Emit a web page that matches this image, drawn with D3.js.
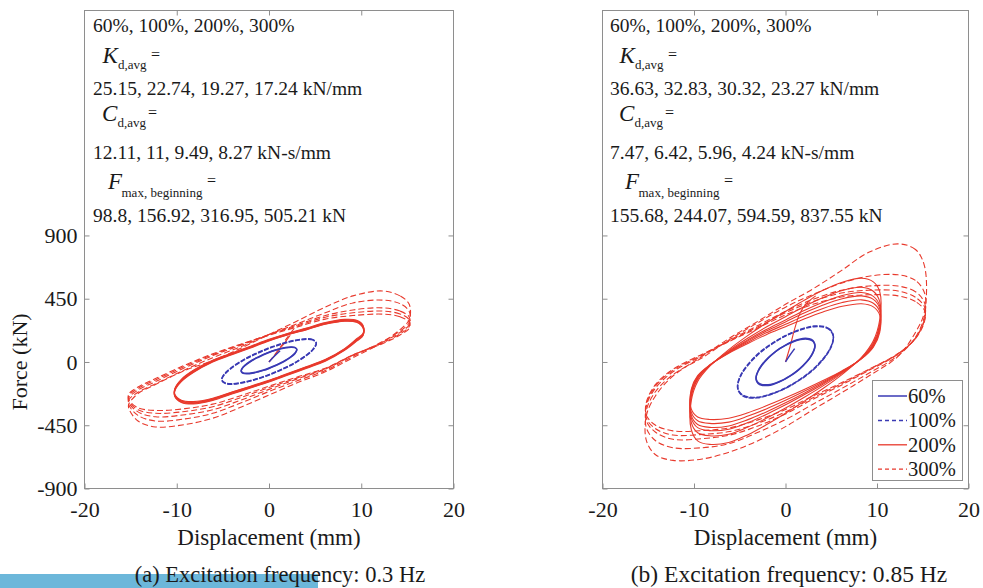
<!DOCTYPE html>
<html>
<head>
<meta charset="utf-8">
<script src="https://cdn.jsdelivr.net/npm/d3@7"></script>
<style>
  body { margin: 0; background: #fff; }
  svg { display: block; }
  text { font-family: "Liberation Serif", "Times New Roman", serif; fill: #1a1a1a; }
</style>
</head>
<body>
<svg id="chart" width="983" height="588"></svg>
<script>
// ---------- axis ticks ----------
const xTicks = [-20, -10, 0, 10, 20];
const yTicks = [-900, -450, 0, 450, 900];
const xLimits = [-20, 20];
const yLimits = [-900, 2500];

// ---------- legend ----------
const amplitudes = ["60%", "100%", "200%", "300%"];

// ---------- annotation text ----------
const statsA = {
  kd: "25.15, 22.74, 19.27, 17.24 kN/mm",
  cd: "12.11, 11, 9.49, 8.27 kN-s/mm",
  fmax: "98.8, 156.92, 316.95, 505.21 kN"
};
const statsB = {
  kd: "36.63, 32.83, 30.32, 23.27 kN/mm",
  cd: "7.47, 6.42, 5.96, 4.24 kN-s/mm",
  fmax: "155.68, 244.07, 594.59, 837.55 kN"
};
const captions = ["(a) Excitation frequency: 0.3 Hz", "(b) Excitation frequency: 0.85 Hz"];

// ---------- hysteresis loops, 0.3 Hz ----------
// displacement stations (mm); upper branch / lower branch forces (kN) per cycle
const stA60 = [-3.0, -2.8, -2.4, -1.8, -1.2, -0.6, 0, 0.6, 1.2, 1.8, 2.4, 2.8, 3.0];
const a60Upper = [
  [-60, -38, -15, 11, 32, 51, 67, 81, 92, 101, 105, 102, 90],
  [-57, -35, -12, 14, 35, 54, 70, 84, 95, 103, 107, 104, 92]
];
const a60Lower = [
  [-66, -78, -81, -77, -68, -57, -43, -27, -8, 13, 39, 62, 84],
  [-69, -81, -84, -80, -71, -60, -46, -30, -11, 10, 36, 59, 81]
];

const stA100 = [-5.1, -4.75, -4.1, -3.05, -2.05, -1.0, 0, 1.0, 2.05, 3.05, 4.1, 4.75, 5.1];
const a100Upper = [
  [-115, -79, -41, 5, 41, 73, 100, 123, 143, 157, 165, 159, 140],
  [-118, -83, -45, 1, 37, 69, 96, 119, 140, 154, 162, 157, 137]
];
const a100Lower = [
  [-130, -149, -155, -147, -133, -113, -90, -63, -31, 5, 51, 89, 125],
  [-133, -152, -158, -150, -136, -116, -93, -66, -34, 2, 48, 86, 122]
];

const stA200 = [-10.2, -9.5, -8.2, -6.1, -4.1, -2.0, 0, 2.0, 4.1, 6.1, 8.2, 9.5, 10.2];
const a200Upper = [
  [-205, -140, -75, 0, 50, 100, 150, 192, 230, 268, 290, 282, 240],
  [-200, -135, -71, 3, 53, 103, 152, 194, 232, 270, 292, 285, 245],
  [-196, -131, -67, 6, 56, 106, 155, 197, 236, 274, 296, 289, 250],
  [-192, -127, -63, 9, 59, 109, 158, 200, 239, 277, 300, 293, 255],
  [-188, -123, -59, 12, 62, 112, 161, 203, 242, 280, 303, 297, 260]
];
const a200Lower = [
  [-232, -272, -282, -258, -215, -172, -130, -82, -32, 18, 95, 165, 205],
  [-236, -276, -287, -262, -218, -175, -133, -85, -35, 15, 92, 160, 200],
  [-240, -280, -291, -266, -222, -178, -136, -88, -38, 12, 89, 156, 196],
  [-244, -284, -295, -270, -226, -182, -139, -91, -41, 9, 86, 152, 192],
  [-248, -288, -299, -274, -230, -185, -142, -94, -44, 6, 83, 148, 188]
];

const stA300 = [-15.2, -14.2, -12.3, -9.1, -6.1, -3.0, 0, 3.0, 6.1, 9.1, 12.3, 14.2, 15.2];
const a300Upper = [
  [-300, -225, -160, -60, 10, 100, 195, 290, 390, 470, 505, 470, 410],
  [-270, -215, -155, -55, 30, 110, 195, 270, 350, 420, 440, 415, 360],
  [-255, -200, -140, -40, 45, 120, 195, 262, 330, 370, 385, 362, 320],
  [-240, -188, -128, -30, 52, 125, 193, 255, 318, 350, 362, 342, 300],
  [-228, -178, -118, -22, 58, 128, 190, 248, 305, 330, 340, 322, 282]
];
const a300Lower = [
  [-330, -420, -462, -445, -400, -320, -235, -150, -70, 30, 140, 230, 300],
  [-305, -380, -420, -405, -365, -290, -210, -135, -60, 40, 145, 220, 280],
  [-290, -355, -390, -375, -340, -270, -195, -122, -52, 48, 140, 210, 265],
  [-278, -340, -365, -352, -318, -252, -182, -115, -48, 50, 135, 200, 252],
  [-268, -325, -345, -332, -300, -238, -172, -108, -44, 50, 130, 192, 240]
];

// initial loading from rest
const a200Start = [[0, 0], [0.6, 45], [1.2, 95], [1.8, 145], [2.3, 190]];
const a300Start = [[0, 0], [1.0, 85], [2.0, 175], [3.0, 262]];
const a60Start = [[0, 0], [0.6, 42], [1.2, 80]];

// ---------- hysteresis loops, 0.85 Hz ----------
const stB60 = [-3.2, -3.0, -2.6, -1.9, -1.3, -0.6, 0, 0.6, 1.3, 1.9, 2.6, 3.0, 3.2];
const b60Upper = [
  [-105, -68, -25, 27, 62, 96, 120, 140, 158, 167, 165, 152, 128],
  [-100, -64, -22, 29, 63, 96, 118, 137, 154, 162, 160, 147, 122]
];
const b60Lower = [
  [-128, -152, -165, -167, -158, -140, -120, -96, -62, -27, 25, 68, 105],
  [-123, -147, -160, -162, -154, -137, -118, -96, -63, -28, 22, 64, 100]
];

const stB100 = [-5.2, -4.85, -4.2, -3.1, -2.1, -1.0, 0, 1.0, 2.1, 3.1, 4.2, 4.85, 5.2];
const b100Upper = [
  [-155, -93, -30, 47, 100, 148, 185, 214, 238, 251, 248, 227, 190],
  [-150, -88, -25, 52, 104, 151, 187, 216, 241, 255, 253, 232, 195]
];
const b100Lower = [
  [-190, -227, -248, -251, -238, -214, -185, -148, -100, -47, 30, 93, 155],
  [-195, -232, -253, -255, -241, -216, -187, -151, -104, -52, 25, 88, 150]
];

const stB200 = [-10.3, -9.6, -8.3, -6.2, -4.1, -2.1, 0, 2.1, 4.1, 6.2, 8.3, 9.6, 10.3];
const b200Upper = [
  [-277, -139, -32, 88, 189, 277, 359, 441, 510, 567, 596, 570, 500],
  [-249, -124, -28, 79, 170, 249, 322, 396, 458, 509, 531, 503, 429],
  [-231, -116, -26, 74, 158, 231, 299, 368, 425, 473, 494, 467, 399],
  [-220, -110, -25, 70, 150, 220, 285, 350, 405, 450, 470, 445, 380],
  [-207, -103, -24, 66, 141, 207, 268, 329, 381, 423, 442, 418, 357],
  [-194, -97, -22, 62, 132, 194, 251, 308, 356, 396, 414, 392, 334]
];
const b200Lower = [
  [-479, -561, -586, -573, -517, -447, -365, -277, -189, -88, 32, 151, 302],
  [-429, -503, -525, -514, -463, -401, -328, -249, -170, -79, 28, 136, 271],
  [-399, -467, -488, -478, -431, -373, -305, -231, -158, -74, 26, 126, 252],
  [-380, -445, -465, -455, -410, -355, -290, -220, -150, -70, 25, 120, 240],
  [-357, -418, -437, -428, -385, -334, -273, -207, -141, -66, 24, 113, 226],
  [-334, -392, -409, -400, -361, -312, -255, -194, -132, -62, 22, 106, 211]
];

const stB300 = [-15.2, -14.2, -12.3, -9.1, -6.1, -3.0, 0, 3.0, 6.1, 9.1, 12.3, 14.2, 15.2];
const b300Upper = [
  [-380, -240, -100, 40, 170, 290, 410, 520, 650, 780, 840, 800, 680],
  [-340, -210, -90, 30, 160, 280, 390, 480, 560, 610, 620, 580, 490],
  [-310, -185, -70, 45, 155, 260, 360, 445, 510, 540, 540, 500, 420],
  [-300, -170, -60, 50, 150, 250, 350, 430, 490, 510, 505, 460, 390],
  [-285, -160, -52, 55, 148, 242, 335, 410, 462, 478, 470, 430, 365]
];
const b300Lower = [
  [-560, -660, -700, -690, -640, -560, -460, -340, -220, -100, 40, 210, 360],
  [-470, -560, -610, -610, -580, -500, -410, -300, -190, -80, 45, 175, 330],
  [-420, -500, -550, -545, -520, -455, -370, -265, -165, -60, 55, 170, 310],
  [-400, -475, -520, -515, -495, -435, -355, -255, -155, -55, 58, 168, 300],
  [-380, -450, -490, -488, -468, -412, -338, -242, -148, -52, 60, 165, 290]
];

const b200Start = [[0, 0], [0.5, 110], [1.0, 235], [1.5, 335], [2.2, 410], [3.3, 470]];
const b60Start = [[0, 0], [0.5, 50], [1.0, 95]];

// ---------- drawing ----------
const BLUE = "#3a3ab4";
const RED = "#e8392c";
const FRAME = "#8e8e8e";

const svg = d3.select("#chart");
const plotTop = 10.5, plotBottom = 488.5;

const panels = [
  {
    left: 84.5, right: 453.5, textX: 93, stats: statsA, caption: captions[0], captionX: 280, captionSize: 22.5,
    yLabels: true, legend: false,
    series: [
      { st: stA300, up: a300Upper, low: a300Lower, color: RED, dash: "6,3", width: 1.1, start: a300Start },
      { st: stA200, up: a200Upper, low: a200Lower, color: RED, dash: null, width: 1.1, start: a200Start },
      { st: stA100, up: a100Upper, low: a100Lower, color: BLUE, dash: "5,1.5", width: 1.5 },
      { st: stA60, up: a60Upper, low: a60Lower, color: BLUE, dash: null, width: 1.5, start: a60Start }
    ]
  },
  {
    left: 602.5, right: 968.5, textX: 610, stats: statsB, caption: captions[1], captionX: 789, captionSize: 23.5,
    yLabels: false, legend: true,
    series: [
      { st: stB300, up: b300Upper, low: b300Lower, color: RED, dash: "6,3", width: 1.1 },
      { st: stB200, up: b200Upper, low: b200Lower, color: RED, dash: null, width: 1.1, start: b200Start },
      { st: stB100, up: b100Upper, low: b100Lower, color: BLUE, dash: "5,1.5", width: 1.5 },
      { st: stB60, up: b60Upper, low: b60Lower, color: BLUE, dash: null, width: 1.5, start: b60Start }
    ]
  }
];

// blue strip along the lower edge, under the first caption
svg.append("rect").attr("x", 0).attr("y", 574).attr("width", 318).attr("height", 14).attr("fill", "#6cb7da");

function loopPoints(st, up, low) {
  const pts = [];
  for (let i = st.length - 1; i >= 0; i--) pts.push([st[i], up[i]]);
  for (let i = 0; i < st.length; i++) pts.push([st[i], low[i]]);
  return pts;
}

panels.forEach(p => {
  const x = d3.scaleLinear().domain(xLimits).range([p.left, p.right]);
  const y = d3.scaleLinear().domain(yLimits).range([plotBottom, plotTop]);
  const g = svg.append("g");

  // frame
  g.append("rect").attr("x", p.left).attr("y", plotTop)
    .attr("width", p.right - p.left).attr("height", plotBottom - plotTop)
    .attr("fill", "#fff").attr("stroke", FRAME).attr("stroke-width", 1);

  // loops
  const closed = d3.line().x(d => x(d[0])).y(d => y(d[1])).curve(d3.curveCatmullRomClosed.alpha(0.5));
  const open = d3.line().x(d => x(d[0])).y(d => y(d[1])).curve(d3.curveCatmullRom.alpha(0.5));
  p.series.forEach(s => {
    s.up.forEach((u, k) => {
      g.append("path").attr("d", closed(loopPoints(s.st, u, s.low[k])))
        .attr("fill", "none").attr("stroke", s.color).attr("stroke-width", s.width)
        .attr("stroke-dasharray", s.dash).attr("stroke-linejoin", "round");
    });
    if (s.start) {
      g.append("path").attr("d", open(s.start))
        .attr("fill", "none").attr("stroke", s.color).attr("stroke-width", s.width)
        .attr("stroke-dasharray", s.dash);
    }
  });

  // axes (ticks pointing inward on all four sides)
  const styleAxis = sel => {
    sel.select(".domain").remove();
    sel.selectAll(".tick line").attr("stroke", FRAME);
    sel.selectAll(".tick text").attr("font-family", "Liberation Serif, Times New Roman, serif")
      .attr("font-size", 22).attr("fill", "#1a1a1a");
  };
  g.append("g").attr("transform", `translate(0,${plotBottom})`)
    .call(d3.axisBottom(x).tickValues(xTicks).tickSizeInner(-5).tickSizeOuter(0).tickPadding(13).tickFormat(d => String(d)))
    .call(styleAxis);
  g.append("g").attr("transform", `translate(0,${plotTop})`)
    .call(d3.axisTop(x).tickValues(xTicks.slice(1, -1)).tickSizeInner(-5).tickSizeOuter(0).tickFormat(""))
    .call(styleAxis);
  g.append("g").attr("transform", `translate(${p.left},0)`)
    .call(d3.axisLeft(y).tickValues(yTicks).tickSizeInner(-5).tickSizeOuter(0).tickPadding(7)
      .tickFormat(p.yLabels ? (d => String(d)) : ""))
    .call(styleAxis);
  g.append("g").attr("transform", `translate(${p.right},0)`)
    .call(d3.axisRight(y).tickValues(yTicks).tickSizeInner(-5).tickSizeOuter(0).tickFormat(""))
    .call(styleAxis);

  // axis titles
  const cx = (p.left + p.right) / 2;
  g.append("text").attr("x", cx).attr("y", 545).attr("text-anchor", "middle")
    .attr("font-size", 23).text("Displacement (mm)");
  if (p.yLabels) {
    g.append("text").attr("transform", `translate(27,${y(0)}) rotate(-90)`)
      .attr("text-anchor", "middle").attr("font-size", 22).text("Force (kN)");
  }

  // caption
  g.append("text").attr("x", p.captionX).attr("y", 582).attr("text-anchor", "middle")
    .attr("font-size", p.captionSize).text(p.caption);

  // statistics block
  const tx = p.textX;
  const line = (yy, str) => g.append("text").attr("x", tx).attr("y", yy).attr("font-size", 19.5).text(str);
  const sym = (xx, yy, letter, sub, subX, subY, eqX) => {
    g.append("text").attr("x", xx).attr("y", yy).attr("font-size", 23).attr("font-style", "italic").text(letter);
    g.append("text").attr("x", subX).attr("y", subY).attr("font-size", 13).text(sub);
    g.append("text").attr("x", eqX).attr("y", yy - 3).attr("font-size", 16).attr("fill", "#444").text("=");
  };
  line(31.5, amplitudes.join(", "));
  sym(tx + 9.5, 62.5, "K", "d,avg", tx + 25, 68.5, tx + 58);
  line(95, p.stats.kd);
  sym(tx + 9, 120.5, "C", "d,avg", tx + 24.5, 127, tx + 55);
  line(158.5, p.stats.cd);
  sym(tx + 15, 188.5, "F", "max, beginning", tx + 28.5, 196.5, tx + 114);
  line(221.5, p.stats.fmax);

  // legend
  if (p.legend) {
    const lg = g.append("g");
    lg.append("rect").attr("x", 872.5).attr("y", 380.5).attr("width", 90).attr("height", 100)
      .attr("fill", "#fff").attr("stroke", FRAME);
    const legendStyle = [
      { color: BLUE, dash: null, width: 1.5 },
      { color: BLUE, dash: "4,3", width: 1.5 },
      { color: RED, dash: null, width: 1.3 },
      { color: RED, dash: "4,3", width: 1.3 }
    ];
    amplitudes.forEach((a, i) => {
      const yy = 396 + i * 24.4;
      lg.append("line").attr("x1", 878).attr("x2", 907).attr("y1", yy).attr("y2", yy)
        .attr("stroke", legendStyle[i].color).attr("stroke-width", legendStyle[i].width)
        .attr("stroke-dasharray", legendStyle[i].dash);
      lg.append("text").attr("x", 908).attr("y", yy + 7).attr("font-size", 20.5).text(a);
    });
  }
});
</script>
</body>
</html>
